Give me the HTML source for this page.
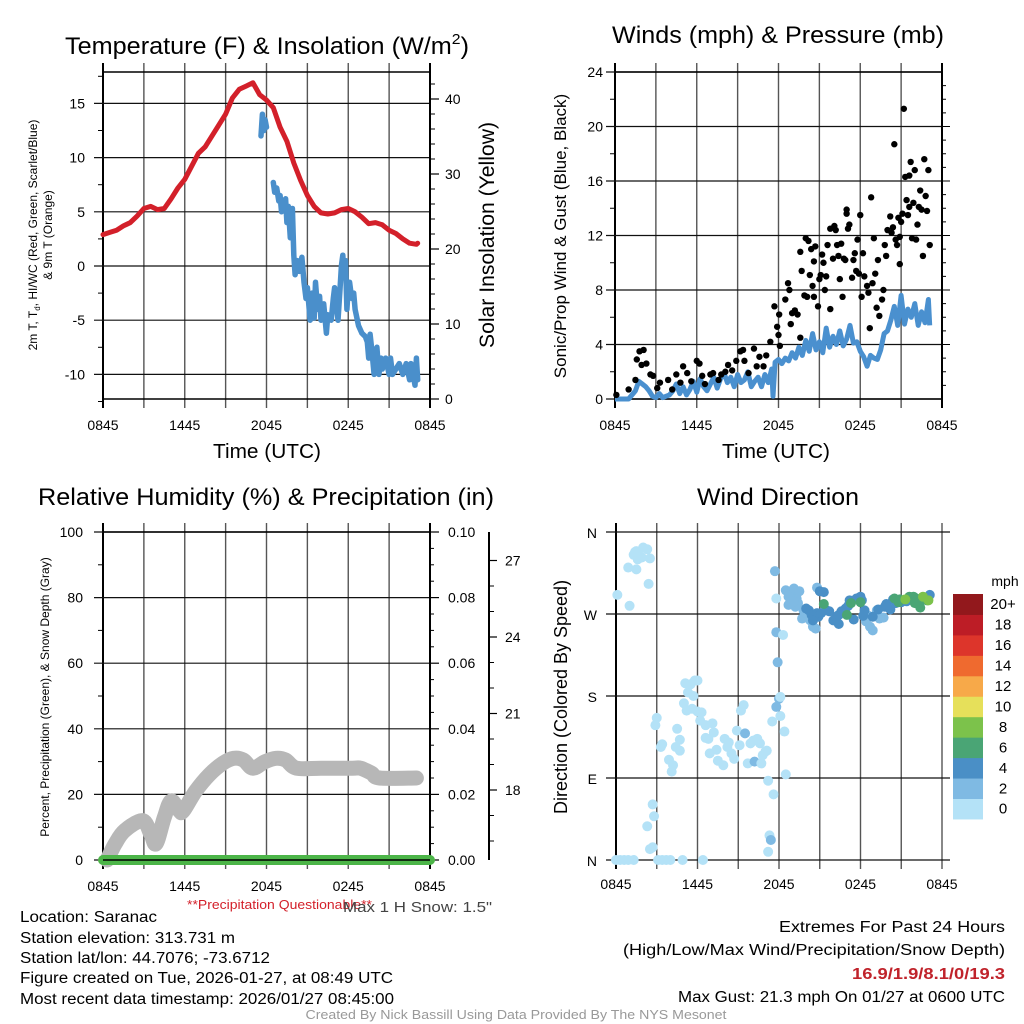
<!DOCTYPE html>
<html><head><meta charset="utf-8">
<style>
body{margin:0;background:#fff;}
svg{display:block;font-family:"Liberation Sans",sans-serif;}
</style></head>
<body>
<svg id="fig" width="1024" height="1024" viewBox="0 0 1024 1024" xmlns="http://www.w3.org/2000/svg">
<rect width="1024" height="1024" fill="#fff"/>
<g id="p1"></g>
<g id="p2"></g>
<g id="p3"></g>
<g id="p4"></g>

<text x="267" y="54" font-size="24" text-anchor="middle" textLength="404" lengthAdjust="spacingAndGlyphs">Temperature (F) &amp; Insolation (W/m<tspan dy="-10" font-size="15">2</tspan><tspan dy="10">)</tspan></text>
<text x="778" y="43" font-size="24" text-anchor="middle" textLength="332" lengthAdjust="spacingAndGlyphs">Winds (mph) &amp; Pressure (mb)</text>
<text x="266" y="505" font-size="24" text-anchor="middle" textLength="456" lengthAdjust="spacingAndGlyphs">Relative Humidity (%) &amp; Precipitation (in)</text>
<text x="778" y="505" font-size="24" text-anchor="middle" textLength="162" lengthAdjust="spacingAndGlyphs">Wind Direction</text>

<text x="267" y="458" font-size="20" text-anchor="middle" textLength="108" lengthAdjust="spacingAndGlyphs">Time (UTC)</text>
<text x="776" y="458" font-size="20" text-anchor="middle" textLength="108" lengthAdjust="spacingAndGlyphs">Time (UTC)</text>

<text transform="translate(37,235) rotate(-90)" font-size="12" text-anchor="middle">2m T, T<tspan font-size="8" dy="3">d</tspan><tspan dy="-3">, HI/WC (Red, Green, Scarlet/Blue)</tspan></text>
<text transform="translate(52,235) rotate(-90)" font-size="12" text-anchor="middle">&amp; 9m T (Orange)</text>
<text transform="translate(494,235) rotate(-90)" font-size="21" text-anchor="middle" textLength="226" lengthAdjust="spacingAndGlyphs">Solar Insolation (Yellow)</text>
<text transform="translate(566,236) rotate(-90)" font-size="17" text-anchor="middle">Sonic/Prop Wind &amp; Gust (Blue, Black)</text>
<text transform="translate(49,697) rotate(-90)" font-size="12" text-anchor="middle">Percent, Precipitation (Green), &amp; Snow Depth (Gray)</text>
<text transform="translate(567,697) rotate(-90)" font-size="18" text-anchor="middle">Direction (Colored By Speed)</text>

<text x="187" y="909" font-size="13" fill="#d3202a" textLength="185" lengthAdjust="spacingAndGlyphs">**Precipitation Questionable**</text>
<text x="343" y="912" font-size="15" fill="#444" textLength="149" lengthAdjust="spacingAndGlyphs">Max 1 H Snow: 1.5"</text>

<g font-size="15.5">
<text x="20" y="922" textLength="137" lengthAdjust="spacingAndGlyphs">Location: Saranac</text>
<text x="20" y="943" textLength="215" lengthAdjust="spacingAndGlyphs">Station elevation: 313.731 m</text>
<text x="20" y="963" textLength="250" lengthAdjust="spacingAndGlyphs">Station lat/lon: 44.7076; -73.6712</text>
<text x="20" y="983" textLength="373" lengthAdjust="spacingAndGlyphs">Figure created on Tue, 2026-01-27, at 08:49 UTC</text>
<text x="20" y="1004" textLength="374" lengthAdjust="spacingAndGlyphs">Most recent data timestamp: 2026/01/27 08:45:00</text>
</g>
<g font-size="15.5" text-anchor="end">
<text x="1005" y="932" textLength="226" lengthAdjust="spacingAndGlyphs">Extremes For Past 24 Hours</text>
<text x="1005" y="955" textLength="382" lengthAdjust="spacingAndGlyphs">(High/Low/Max Wind/Precipitation/Snow Depth)</text>
<text x="1005" y="979" fill="#c0232b" font-weight="bold" textLength="153" lengthAdjust="spacingAndGlyphs">16.9/1.9/8.1/0/19.3</text>
<text x="1005" y="1002" textLength="327" lengthAdjust="spacingAndGlyphs">Max Gust: 21.3 mph On 01/27 at 0600 UTC</text>
</g>
<text x="516" y="1019" font-size="12.5" fill="#999" text-anchor="middle" textLength="421" lengthAdjust="spacingAndGlyphs">Created By Nick Bassill Using Data Provided By The NYS Mesonet</text>
</svg>
<script>
// ---------- data ----------
const timeTickLabels = ["0845","1445","2045","0245","0845"];
const tempHours = [0,0.5,1,1.5,2,2.5,3,3.5,4,4.5,5,5.5,6,6.5,7,7.5,8,8.5,9,9.5,10,10.5,11,11.5,12,12.5,13,13.5,14,14.5,15,15.5,16,16.5,17,17.5,18,18.5,19,19.5,20,20.5,21,21.5,22,22.5,23,23.1];
const tempValues = [2.9,3.1,3.3,3.7,4.0,4.6,5.3,5.5,5.2,5.3,6.2,7.2,8.0,9.2,10.4,11.0,12.0,13.0,14.0,15.5,16.3,16.6,16.9,15.8,15.3,14.6,12.8,11.5,9.5,7.9,6.5,5.5,4.9,4.8,4.9,5.2,5.3,5.0,4.5,3.9,4.0,3.8,3.3,3.0,2.5,2.1,2.0,2.1];
const chillHoursA = [11.6,11.7,11.8,11.9,12.0];
const chillValuesA = [12,14,12.5,13.5,12.8];
const chillHoursB = [12.5,12.6,12.75,12.9,13.0,13.1,13.25,13.4,13.5,13.6,13.75,13.9,14.0,14.1,14.25,14.4,14.6,14.75,14.9,15.0,15.2,15.35,15.5,15.6,15.75,15.9,16.0,16.2,16.4,16.5,16.75,16.9,17.0,17.1,17.25,17.4,17.5,17.6,17.7,17.8,17.9,18.0,18.1,18.25,18.4,18.5,18.75,19.0,19.25,19.4,19.5,19.6,19.75,19.9,20.0,20.1,20.25,20.4,20.5,20.75,21.0,21.1,21.25,21.5,21.75,22.0,22.25,22.5,22.6,22.75,22.9,23.0,23.1];
const chillValuesB = [7.7,6.8,7.2,6.0,6.5,5.0,5.2,6.2,4.0,5.5,2.6,5.3,1.0,-0.8,0.5,-0.5,0.8,-1.5,-3.0,-2.0,-5.0,-2.5,-4.8,-1.5,-4,-2.8,-5.0,-3.5,-6.2,-4.5,-5.0,-3.0,-2.0,-3.0,-5.0,-2.0,0.0,1.0,-1.0,0.5,-4.0,-2.0,-1.5,-3,-2.5,-4.0,-5.5,-6.2,-6.5,-7.0,-8.5,-6.3,-8.0,-10,-9.0,-7.5,-10,-8.5,-9.5,-8.5,-10.0,-8.5,-10,-9.5,-9,-10,-9,-10.5,-9,-10,-11.0,-8.5,-10.5];

const windHours = [0,0.5,1,1.25,1.5,1.75,2,2.25,2.5,2.75,3,3.25,3.5,4,4.25,4.5,4.75,5,5.25,5.5,5.75,6,6.25,6.5,6.75,7,7.25,7.5,7.75,8,8.25,8.5,8.75,9,9.25,9.5,9.75,10,10.25,10.5,10.75,11,11.25,11.5,11.6,11.75,12,12.25,12.5,12.75,13,13.25,13.5,13.75,14,14.25,14.5,14.75,15,15.25,15.5,15.75,16,16.25,16.5,16.75,17,17.25,17.5,17.75,18,18.25,18.5,18.75,19,19.25,19.5,19.75,20,20.25,20.5,20.75,21,21.25,21.5,21.75,22,22.25,22.5,22.75,23,23.1];
const windValues = [0,0,0,0.3,0.6,1.3,1.1,0.9,0.6,0.2,0.1,0.4,0.1,0.3,0.6,1.1,0.4,0.9,0.3,0.7,1.3,0.5,1.5,0.9,0.6,1.1,1.6,0.8,1.5,1.9,1.2,1.6,0.9,1.8,1.2,1.4,2.0,0.9,1.3,1.6,0.9,1.8,1.2,2.2,0.2,2.7,2.9,2.6,3.0,2.8,3.4,3.0,3.8,3.2,4.3,3.5,4.8,3.6,4.2,3.4,5.2,3.8,4.6,4.0,5.0,3.9,4.4,5.4,4.1,4.2,3.5,3.1,2.4,3.2,3.0,2.9,3.6,4.8,5.0,5.8,6.8,5.4,7.6,5.5,6.6,6.0,7.0,5.4,6.4,5.6,7.3,5.4];
const gustHours = [0.1,1.0,1.5,1.6,1.8,2.1,1.95,2.3,2.6,2.8,3.1,3.3,3.9,4.2,4.5,4.8,5.0,5.3,5.6,6.0,6.2,6.4,6.6,7.0,7.2,7.6,7.8,8.1,8.3,8.6,8.9,9.2,9.4,9.5,9.8,10.2,10.4,10.6,10.9,11.1,11.4,11.7,11.9,12.0,12.05,12.1,12.5,12.7,12.8,12.9,13.0,13.2,13.4,13.6,13.6,13.7,13.9,14.0,14.1,14.2,14.3,14.4,14.5,14.6,14.6,14.7,14.9,15.0,15.1,15.2,15.3,15.4,15.5,15.6,15.8,15.8,16.0,16.1,16.2,16.3,16.4,16.5,16.6,16.7,16.8,16.9,17.0,17.0,17.1,17.2,17.4,17.5,17.6,17.7,17.8,17.9,18.0,18.1,18.2,18.3,18.5,18.6,18.7,18.8,18.9,19.0,19.1,19.2,19.3,19.4,19.6,19.7,19.8,19.9,20.0,20.2,20.3,20.4,20.5,20.6,20.7,20.8,20.9,20.9,21.0,21.1,21.2,21.3,21.4,21.5,21.6,21.6,21.7,21.8,21.9,22.0,22.1,22.2,22.3,22.4,22.5,22.6,22.7,22.8,22.9,23.0,23.1];
const gustValues = [0.3,0.7,1.4,2.9,3.5,3.6,2.5,2.6,1.8,1.7,0.8,1.2,1.4,0.7,1.8,1.2,2.4,1.9,1.3,2.8,2.6,1.7,1.1,1.8,1.9,1.4,1.8,2.0,2.5,2.1,2.8,3.5,3.6,2.8,1.9,3.7,2.4,3.1,2.4,3.2,4.2,6.8,5.3,4.7,6.2,3.9,7.3,8.5,8.0,5.5,6.3,6.5,6.2,4.5,10.8,9.4,7.6,11.8,7.5,11.6,9.1,11.0,8.3,10.1,7.5,11.2,6.8,8.8,9.1,10.6,10.0,8.0,9.0,11.3,12.5,6.6,10.3,12.7,12.4,11.3,10.5,8.8,11.4,7.5,10.3,10.2,13.9,13.6,12.5,12.8,8.9,10.2,10.7,9.4,11.7,9.2,13.5,7.5,10.7,9.0,8.3,7.8,5.2,14.8,8.5,11.8,9.2,6.7,10.2,6.1,7.3,8.0,11.3,10.5,12.4,13.4,12.2,12.6,18.7,11.7,11.3,13.3,11.9,9.9,13.0,13.6,21.3,16.3,14.6,13.5,14.1,16.4,17.4,11.8,14.4,16.8,11.7,12.8,14.1,15.3,13.9,10.5,17.6,14.9,13.8,16.8,11.3];

const snowHours = [0.3,0.9,1.6,2.9,3.5,3.9,4.5,5.0,5.6,5.9,6.8,7.8,8.8,9.6,10.3,11.0,11.9,12.7,13.4,14.2,16,18.3,18.9,19.7,20.3,23];
const snowValues = [0,5,9,12,8,5,13,18,15,15,21,26,29.5,31,30.5,28,30,31,30.5,28,28,28,28,26.5,25,25];
const precipHours = [0,24];
const precipValues = [0,0];

const dirHours = [0.1,1.0,0.9,1.5,1.3,1.5,1.8,2.0,2.3,2.5,2.4,1.6,1.4,1.9,
0,0.3,0.6,0.9,1.3,3.1,3.4,3.7,4.0,4.9,6.4,
2.3,2.5,2.7,2.8,2.7,2.9,3.0,3.3,3.4,3.9,4.1,4.2,4.4,4.5,4.7,4.7,5.0,5.2,5.3,5.1,5.5,5.7,5.8,6.0,5.6,6.0,6.2,6.3,6.6,6.8,7.1,7.2,6.6,6.9,7.4,7.5,7.9,8.0,8.3,8.5,8.7,8.2,8.9,9.1,9.2,9.4,9.5,9.7,9.9,10.1,10.2,10.4,10.6,10.7,10.8,11.0,11.1,11.2,11.3,11.4,11.2,11.6,11.5,11.7,11.8,11.9,11.8,11.8,12.0,12.1,12.1,12.3,12.4,12.5,
12.5,12.7,12.9,13.1,13.3,13.5,13.2,13.4,13.7,14.0,14.3,14.5,14.7,13.8,14.8,18.4,18.7,18.9,18.6,19.2,19.4,19.7,12.7,13.1,
14.0,14.2,14.4,14.8,14.9,15.0,15.3,15.5,15.7,16.0,16.2,16.4,16.6,16.9,17.1,17.2,17.5,17.7,18.0,18.1,18.2,18.3,18.9,19.3,19.8,19.9,20.2,20.4,20.6,21.0,21.4,21.9,22.6,23.1,14.5,15.1,16.4,
15.3,17.3,17.0,18.0,20.5,20.8,21.6,21.9,22.1,22.4,22.5,22.0,20.9,22.9,
21.3,23.0,22.6];
const dirDegrees = [291,279,321,319,335,339,333,343,341,331,303,330,338,332,
0,0,0,0,0,0,0,0,0,0,0,
37,12,14,48,61,148,156,124,127,110,97,104,124,144,132,120,172,164,184,194,193,180,197,197,166,163,153,162,148,133,150,140,134,117,121,109,104,133,129,117,111,124,142,126,164,170,139,106,128,131,108,133,128,106,115,119,120,87,27,22,9,72,152,317,250,217,287,168,177,179,158,247,141,94,
296,289,293,298,287,295,278,282,265,271,263,256,254,274,299,262,256,252,268,274,265,266,280,284,
276,274,269,271,267,295,294,274,273,263,267,259,273,276,279,285,264,287,289,285,268,274,267,275,278,281,275,286,282,283,284,285,287,291,263,271,269,
281,282,269,283,287,283,289,289,287,277,285,282,286,285,
286,285,289];
const dirSpeeds = [0,0,0,0,0,0,0,0,0,0,0,0,0,0,
0,0,0,0,0,0,0,0,0,0,0,
0,0,0,0,0,0,0,0,0,0,0,0,0,0,0,0,0,0,0,0,0,0,0,0,0,0,0,0,0,0,0,0,0,0,0,0,0,0,0,0,0,0,0,0,0,0,3,0,0,0,3,0,0,0,0,0,0,0,0,3,0,0,0,3,3,3,0,3,3,0,1,0,0,0,
2,2,2,2,2,2,2,2,2,2,2,2,2,2,2,2,2,2,2,2,2,2,2,2,
4,4,4,4,4,4,4,4,4,4,4,4,4,4,4,4,4,4,4,4,4,4,4,4,4,4,4,4,4,4,4,4,4,4,4,4,4,
6,6,6,6,6,6,6,6,6,6,6,6,6,6,
8,8,8];
const speedLabels = ["0","2","4","6","8","10","12","14","16","18","20+"];
const speedColors = ["#b4e2f7","#7fbae3","#4a8fc6","#4aa575","#7cc24b","#e6e05a","#f7a949","#ef6a2f","#dd352b","#bd1d26","#92181c"];

// ---------- helpers ----------
const NS = "http://www.w3.org/2000/svg";
function mk(parent, tag, attrs){const e=document.createElementNS(NS,tag);for(const k in attrs)e.setAttribute(k,attrs[k]);parent.appendChild(e);return e;}
function linePath(xs, ys, fx, fy){return xs.map((h,i)=>(i?"L":"M")+fx(h).toFixed(1)+","+fy(ys[i]).toFixed(1)).join("");}
function smoothPath(xs, ys, fx, fy){
  const P=xs.map((h,i)=>[fx(h),fy(ys[i])]);
  let d="M"+P[0][0].toFixed(1)+","+P[0][1].toFixed(1);
  for(let i=0;i<P.length-1;i++){
    const p0=P[Math.max(0,i-1)],p1=P[i],p2=P[i+1],p3=P[Math.min(P.length-1,i+2)];
    const c1=[p1[0]+(p2[0]-p0[0])/6,p1[1]+(p2[1]-p0[1])/6];
    const c2=[p2[0]-(p3[0]-p1[0])/6,p2[1]-(p3[1]-p1[1])/6];
    d+="C"+c1.map(v=>v.toFixed(1)).join(",")+" "+c2.map(v=>v.toFixed(1)).join(",")+" "+p2.map(v=>v.toFixed(1)).join(",");
  }
  return d;
}

function frame(g, L, R, T, B, yMajor, fy, yLabels, labelX){
  for(let k=0;k<=8;k++){
    const x=L+(R-L)*k/8;
    const gl=mk(g,"line",{x1:x,x2:x,y1:T-9,y2:B+9,stroke:(k===0||k===8)?"#000":"#555","stroke-width":(k===0||k===8)?2:1.4});
    
    
  }
  yMajor.forEach((v,i)=>{
    const y=fy(v);
    const hl=mk(g,"line",{x1:L-9,x2:R,y1:y,y2:y,stroke:"#111","stroke-width":1.2});
    
    
    const t=mk(g,"text",{x:labelX,y:y+5,"font-size":14,"text-anchor":"end"});
    t.textContent=yLabels[i];
    
    
  });
  mk(g,"line",{x1:L,x2:R,y1:T,y2:T,stroke:"#000","stroke-width":1.5});
  mk(g,"line",{x1:L,x2:R,y1:B,y2:B,stroke:"#000","stroke-width":1.5});
  timeTickLabels.forEach((s,i)=>{
    const t=mk(g,"text",{x:L+(R-L)*i/4,y:B+31,"font-size":14,"text-anchor":"middle"});
    t.textContent=s;
    
    
  });
}

// ---------- panel 1 ----------
(function(){
  const g=document.getElementById("p1");
  const L=103,R=430,T=72,B=399;
  const fx=h=>L+h*(R-L)/24;
  const fy=v=>266-v*10.84;
  const fyr=v=>399-v*7.5;
  frame(g,L,R,T,B,[15,10,5,0,-5,-10],fy,["15","10","5","0","-5","-10"],85);
  for(let v=-12.5;v<=17.5;v+=5){mk(g,"line",{x1:L-5,x2:L,y1:fy(v),y2:fy(v),stroke:"#000"});}
  [0,10,20,30,40].forEach(v=>{
    mk(g,"line",{x1:R,x2:R+9,y1:fyr(v),y2:fyr(v),stroke:"#000","stroke-width":1.2});
    const t=mk(g,"text",{x:445,y:fyr(v)+5,"font-size":14});t.textContent=String(v);
    
    
  });
  for(let v=2;v<43;v+=2){if(v%10)mk(g,"line",{x1:R,x2:R+5,y1:fyr(v),y2:fyr(v),stroke:"#000"});}
  mk(g,"line",{x1:R,x2:R,y1:T-9,y2:B,stroke:"#000","stroke-width":2});
  const red=mk(g,"path",{d:linePath(tempHours,tempValues,fx,fy),fill:"none",stroke:"#d3202a","stroke-width":5,"stroke-linejoin":"round","stroke-linecap":"round"});
  
  
  const b1=mk(g,"path",{d:linePath(chillHoursA,chillValuesA,fx,fy),fill:"none",stroke:"#4a8fcb","stroke-width":5.5,"stroke-linejoin":"round","stroke-linecap":"round"});
  
  
  const b2=mk(g,"path",{d:linePath(chillHoursB,chillValuesB,fx,fy),fill:"none",stroke:"#4a8fcb","stroke-width":5.5,"stroke-linejoin":"round","stroke-linecap":"round"});
  
  
})();

// ---------- panel 2 ----------
(function(){
  const g=document.getElementById("p2");
  const L=615,R=942,T=72,B=399;
  const fx=h=>L+h*(R-L)/24;
  const fy=v=>B-v*(B-T)/24;
  frame(g,L,R,T,B,[24,20,16,12,8,4,0],fy,["24","20","16","12","8","4","0"],603);
  for(let v=2;v<24;v+=4){mk(g,"line",{x1:L-5,x2:L,y1:fy(v),y2:fy(v),stroke:"#000"});}
  for(let v=1;v<24;v++){mk(g,"line",{x1:R,x2:R+(v%4?4:8),y1:fy(v),y2:fy(v),stroke:"#000"});}
  mk(g,"line",{x1:R,x2:R,y1:T-9,y2:B+9,stroke:"#000","stroke-width":2});
  const w=mk(g,"path",{d:linePath(windHours,windValues,fx,fy),fill:"none",stroke:"#4a90cf","stroke-width":5,"stroke-linejoin":"round"});
  
  
  gustHours.forEach((h,i)=>{
    const c=mk(g,"circle",{cx:fx(h),cy:fy(gustValues[i]),r:3.2,fill:"#000"});
    
    
  });
})();

// ---------- panel 3 ----------
(function(){
  const g=document.getElementById("p3");
  const L=103,R=430,T=532,B=860;
  const fx=h=>L+h*(R-L)/24;
  const fy=v=>B-v*(B-T)/100;
  frame(g,L,R,T,B,[100,80,60,40,20,0],fy,["100","80","60","40","20","0"],83);
  for(let v=10;v<100;v+=20){mk(g,"line",{x1:L-5,x2:L,y1:fy(v),y2:fy(v),stroke:"#000"});}
  ["0.10","0.08","0.06","0.04","0.02","0.00"].forEach((s,i)=>{
    const y=fy(100-i*20);
    mk(g,"line",{x1:R,x2:R+9,y1:y,y2:y,stroke:"#000","stroke-width":1.2});
    const t=mk(g,"text",{x:448,y:y+5,"font-size":14});t.textContent=s;
    
    
  });
  for(let v=5;v<100;v+=5){if(v%20)mk(g,"line",{x1:R,x2:R+4,y1:fy(v),y2:fy(v),stroke:"#000"});}
  mk(g,"line",{x1:R,x2:R,y1:T-9,y2:B+9,stroke:"#000","stroke-width":2});
  mk(g,"line",{x1:489,x2:489,y1:T,y2:B,stroke:"#000","stroke-width":2});
  const fs=v=>790-(v-18)*25.5;
  [18,21,24,27].forEach(v=>{
    mk(g,"line",{x1:489,x2:497,y1:fs(v),y2:fs(v),stroke:"#000","stroke-width":1.2});
    const t=mk(g,"text",{x:505,y:fs(v)+5,"font-size":14});t.textContent=String(v);
    
    
  });
  for(let v=16;v<28;v++){if(v%3){const y=fs(v);if(y>T&&y<B)mk(g,"line",{x1:489,x2:494,y1:y,y2:y,stroke:"#000"});}}
  const s=mk(g,"path",{d:smoothPath(snowHours,snowValues,fx,fy),fill:"none",stroke:"#b7b7b7","stroke-width":15,"stroke-linejoin":"round","stroke-linecap":"round"});
  
  
  const p=mk(g,"path",{d:linePath(precipHours,precipValues,fx,fy),fill:"none",stroke:"#4cb548","stroke-width":10,"stroke-linecap":"round"});
  
  
  mk(g,"line",{x1:L,x2:R,y1:B,y2:B,stroke:"#000","stroke-width":1.5});
})();

// ---------- panel 4 ----------
(function(){
  const g=document.getElementById("p4");
  const L=616,R=942,T=532,B=860;
  const fx=h=>L+h*(R-L)/24;
  const fy=d=>B-d*(B-T)/360;
  for(let k=0;k<=8;k++){
    const x=L+(R-L)*k/8;
    mk(g,"line",{x1:x,x2:x,y1:T-9,y2:B+9,stroke:(k===0)?"#000":"#555","stroke-width":(k===0)?2:1.4});
  }
  ["N","E","S","W","N"].forEach((s,i)=>{
    const y=fy(i*90);
    mk(g,"line",{x1:L-10,x2:R+8,y1:y,y2:y,stroke:"#111","stroke-width":1.2});
    const t=mk(g,"text",{x:597,y:y+6,"font-size":14,"text-anchor":"end"});t.textContent=s;
    
    
  });
  timeTickLabels.forEach((s,i)=>{
    const t=mk(g,"text",{x:L+(R-L)*i/4,y:B+29,"font-size":14,"text-anchor":"middle"});t.textContent=s;
    
    
  });
  dirHours.forEach((h,i)=>{
    const idx=Math.min(10,Math.floor(dirSpeeds[i]/2));
    const c=mk(g,"circle",{cx:fx(h),cy:fy(dirDegrees[i]),r:5,fill:speedColors[idx]});
    
    
  });
  const cb=mk(g,"g",{});
  
  
  const t0=594,bh=20.45;
  speedColors.forEach((col,i)=>{
    const y=t0+(10-i)*bh;
    mk(cb,"rect",{x:953,y:y,width:30,height:bh+0.5,fill:col});
    const t=mk(cb,"text",{x:1003,y:y+bh/2+5,"font-size":15,"text-anchor":"middle"});t.textContent=speedLabels[i];
    
    
  });
  const u=mk(cb,"text",{x:1005,y:586,"font-size":14,"text-anchor":"middle"});u.textContent="mph";
  
  
})();
</script>
</body></html>
